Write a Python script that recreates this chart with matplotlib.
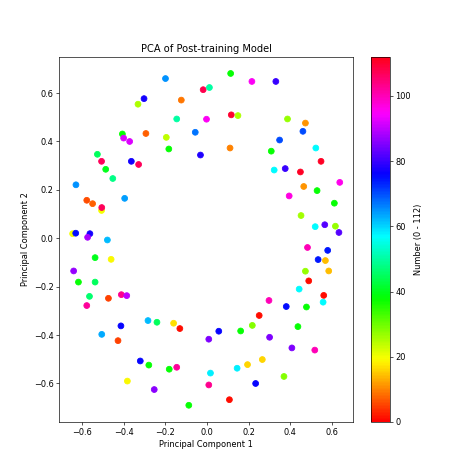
import matplotlib
matplotlib.use("Agg")
import matplotlib.pyplot as plt
import numpy as np

# PCA coordinates and the number each point carries
pc1 = [-0.200, -0.019, 0.011, -0.303, -0.332, -0.124, -0.146, -0.003, -0.407, -0.401,
       -0.372, -0.294, -0.196, -0.184, -0.057, -0.032, -0.527, -0.507, -0.487, -0.453,
       -0.364, -0.329, -0.630, -0.396, -0.578, -0.550, -0.507, -0.506, -0.646, -0.631,
       -0.563, -0.574, -0.479, 0.113, 0.215, 0.330, 0.116, 0.148, 0.386, 0.472,
       0.460, 0.348, 0.110, 0.308, 0.522, 0.547, 0.322, 0.375, 0.448, 0.637,
       0.464, 0.528, 0.394, 0.611, 0.451, 0.519, 0.565, 0.616, 0.633, -0.538,
       -0.461, -0.641, -0.618, -0.538, -0.565, -0.578, -0.474, -0.412, -0.386, -0.284,
       -0.241, -0.161, -0.131, -0.414, -0.506, -0.428, 0.008, -0.321, -0.280, -0.182,
       -0.146, -0.383, -0.254, 0.016, 0.008, -0.088, 0.482, 0.579, 0.533, 0.568,
       0.584, 0.472, 0.488, 0.442, 0.560, 0.557, 0.297, 0.380, 0.477, 0.250,
       0.217, 0.436, 0.161, 0.056, 0.300, 0.407, 0.517, 0.265, 0.194, 0.144,
       0.369, 0.233, 0.107]
pc2 = [0.660, 0.614, 0.623, 0.577, 0.554, 0.571, 0.493, 0.492, 0.431, 0.414,
       0.400, 0.433, 0.417, 0.369, 0.438, 0.344, 0.347, 0.318, 0.285, 0.247,
       0.318, 0.305, 0.221, 0.165, 0.157, 0.143, 0.115, 0.127, 0.019, 0.021,
       0.019, 0.004, -0.007, 0.681, 0.648, 0.648, 0.510, 0.507, 0.493, 0.476,
       0.442, 0.406, 0.373, 0.360, 0.373, 0.318, 0.282, 0.288, 0.274, 0.231,
       0.214, 0.197, 0.175, 0.145, 0.094, 0.048, 0.056, 0.050, 0.024, -0.080,
       -0.087, -0.135, -0.181, -0.181, -0.240, -0.278, -0.248, -0.233, -0.237, -0.340,
       -0.347, -0.351, -0.373, -0.362, -0.397, -0.423, -0.417, -0.507, -0.524, -0.541,
       -0.533, -0.590, -0.625, -0.557, -0.606, -0.690, -0.038, -0.050, -0.088, -0.092,
       -0.135, -0.136, -0.176, -0.210, -0.236, -0.264, -0.257, -0.282, -0.284, -0.319,
       -0.360, -0.365, -0.383, -0.384, -0.409, -0.453, -0.462, -0.501, -0.522, -0.537,
       -0.571, -0.600, -0.667]
numbers = [65, 108, 50, 77, 25, 9, 50, 95, 38, 92,
           92, 7, 24, 38, 67, 78, 45, 107, 40, 48,
           77, 107, 65, 64, 6, 7, 20, 107, 20, 75,
           77, 88, 62, 38, 95, 80, 110, 25, 27, 11,
           70, 70, 10, 38, 57, 111, 57, 80, 111, 96,
           11, 38, 97, 38, 26, 57, 82, 27, 82, 40,
           19, 87, 38, 45, 46, 102, 5, 103, 90, 62,
           45, 17, 1, 76, 63, 5, 85, 76, 38, 38,
           102, 19, 86, 58, 103, 38, 100, 74, 74, 14,
           14, 27, 1, 57, 1, 57, 100, 75, 38, 1,
           28, 38, 38, 76, 85, 85, 100, 16, 16, 58,
           28, 76, 1]

fig = plt.figure(figsize=(8, 8), dpi=59.25)
sc = plt.scatter(pc1, pc2, c=numbers, cmap="hsv", vmin=0, vmax=112, s=50)
plt.colorbar(sc, label="Number (0 - 112)")
plt.title("PCA of Post-training Model", fontsize=12)
plt.xlabel("Principal Component 1")
plt.ylabel("Principal Component 2")
plt.savefig("out.png", dpi=59.25)
